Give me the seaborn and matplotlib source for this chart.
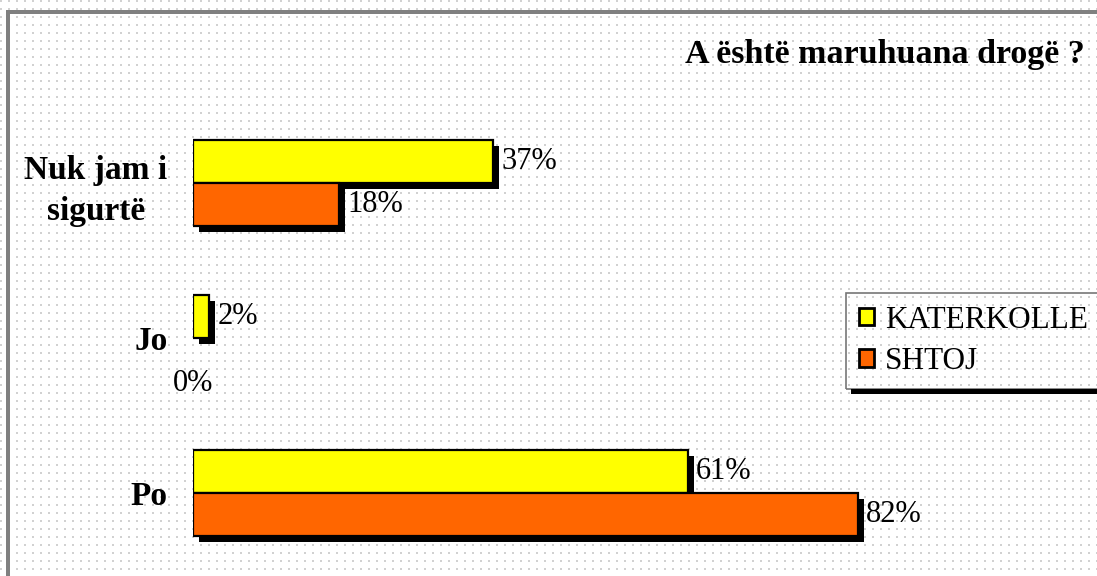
import numpy as np
import pandas as pd
import matplotlib
matplotlib.use('Agg')
import matplotlib.pyplot as plt
import seaborn as sns
from matplotlib import patheffects as pe
from matplotlib.patches import Rectangle

# ---- data ----
categories = ['Nuk jam i\nsigurtë', 'Jo', 'Po']
schools = ['KATERKOLLE', 'SHTOJ']
katerkolle = [37, 2, 61]
shtoj = [18, 0, 82]
title = 'A është maruhuana drogë ?'
colors = ['#FFFF00', '#FF6600']

df = pd.DataFrame({
    'cat': categories * 2,
    'school': [schools[0]] * 3 + [schools[1]] * 3,
    'val': katerkolle + shtoj,
})

W, H = 1097, 576
sns.set_theme(style='white')
plt.rcParams['font.family'] = ['Liberation Serif', 'DejaVu Serif']
plt.rcParams['text.color'] = 'black'

fig = plt.figure(figsize=(W / 100, H / 100), dpi=100)
fig.patch.set_facecolor('white')

# dotted background pattern
bg = np.ones((H, W, 3))
yy, xx = np.mgrid[0:H, 0:W]
mask = ((xx % 8) < 2) & ((yy % 8) < 2)
bg[mask] = 0.82
fig.figimage(bg, 0, 0, zorder=0)

# frame borders (top / left)
fig.add_artist(Rectangle((6 / W, 1 - 14 / H), 1, 4 / H, transform=fig.transFigure,
                         facecolor='#808080', edgecolor='none', zorder=1))
fig.add_artist(Rectangle((6 / W, 0), 4 / W, 1 - 10 / H, transform=fig.transFigure,
                         facecolor='#808080', edgecolor='none', zorder=1))

ax = fig.add_axes([193 / W, 0, 811 / W, 1])
ax.set_zorder(2)
ax.set_facecolor('none')
ax.patch.set_alpha(0)
sns.barplot(data=df, y='cat', x='val', hue='school', order=categories,
            hue_order=schools, palette=colors, orient='h', width=0.555,
            saturation=1, edgecolor='black', linewidth=1.6, ax=ax)

shadow = [pe.SimplePatchShadow(offset=(4.3, -4.3), shadow_rgbFace='black', alpha=1.0),
          pe.Normal()]
for cont in ax.containers:
    for bar, v in zip(cont, cont.datavalues):
        cy = bar.get_y() + bar.get_height() / 2
        if v == 0:
            bar.set_visible(False)
            ax.annotate(f'{v:.0f}%', (0, cy), xytext=(0, -17), textcoords='offset points',
                        ha='center', va='center', fontsize=22, color='black')
        else:
            bar.set_path_effects(shadow)
            ax.annotate(f'{v:.0f}%', (v, cy), xytext=(6, 0), textcoords='offset points',
                        ha='left', va='center', fontsize=22, color='black')

ax.set_xlim(0, 100)
ax.set_ylim((H - 183) / 155, -183 / 155)
for s in ax.spines.values():
    s.set_visible(False)
ax.set_xticks([])
ax.set_xlabel('')
ax.set_ylabel('')
ax.tick_params(axis='y', length=0, pad=18.5)
for lab in ax.get_yticklabels():
    lab.set_fontweight('bold')
    lab.set_fontsize(24)
    lab.set_multialignment('center')
    lab.set_linespacing(1.4)
    lab.set_color('black')

handles, labels = ax.get_legend_handles_labels()
if ax.get_legend() is not None:
    ax.get_legend().remove()
leg = ax.legend(handles, labels, loc='upper left',
                bbox_to_anchor=(846 / W, 0, 300 / W, 1 - 293 / H),
                bbox_transform=fig.transFigure, mode='expand', borderaxespad=0,
                fontsize=22.5, handlelength=0.5, handleheight=0.5, handletextpad=0.35,
                labelspacing=0.4, borderpad=0.4, fancybox=False, frameon=True)
leg.get_frame().set_facecolor('none')
leg.get_frame().set_edgecolor('#555555')
leg.get_frame().set_linewidth(1.2)
for h in leg.legend_handles:
    h.set_edgecolor('black')
    h.set_linewidth(2)
for t in leg.get_texts():
    t.set_color('black')

fig.canvas.draw()
bb = leg.get_window_extent()
fig.add_artist(Rectangle((bb.x0 + 5, bb.y0 - 5), bb.width, 5, transform=None,
                         facecolor='black', edgecolor='none', zorder=3))

fig.text(1085 / W, 1 - 54 / H, title, ha='right', va='center', fontsize=24.5,
         fontweight='bold', color='black')

fig.savefig('out.png', dpi=100)
